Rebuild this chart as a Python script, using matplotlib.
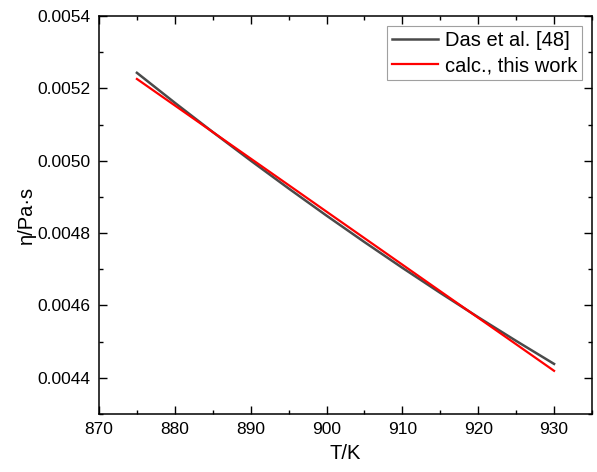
import matplotlib
matplotlib.use("Agg")
import matplotlib.pyplot as plt
from matplotlib.ticker import MultipleLocator

plt.rcParams['font.family'] = ['Liberation Sans', 'DejaVu Sans']

# Temperature, K
temperature = [875, 880, 885, 890, 895, 900, 905, 910, 915, 920, 925, 930]

# Viscosity, Pa*s
eta_das = [0.005243, 0.0051602, 0.0050793, 0.0050004, 0.0049234, 0.0048483,
           0.0047752, 0.004704, 0.0046347, 0.0045674, 0.004502, 0.0044384]
eta_calc = [0.005226, 0.0051527, 0.0050793, 0.005006, 0.0049327, 0.0048593,
            0.004786, 0.0047127, 0.0046393, 0.004566, 0.0044927, 0.0044193]


def main() -> None:
    fig = plt.figure(figsize=(5.97, 4.72), dpi=100)
    ax = fig.add_axes([0.1658, 0.1229, 0.8258, 0.8432])

    ax.plot(temperature, eta_das, color='#4a4a4a', lw=1.8, label='Das et al. [48]')
    ax.plot(temperature, eta_calc, color='#ff0000', lw=1.6, label='calc., this work')

    ax.set_xlim(870, 935)
    ax.set_ylim(0.0043, 0.0054)
    ax.xaxis.set_major_locator(MultipleLocator(10))
    ax.xaxis.set_minor_locator(MultipleLocator(5))
    ax.yaxis.set_major_locator(MultipleLocator(0.0002))
    ax.yaxis.set_minor_locator(MultipleLocator(0.0001))
    ax.yaxis.set_major_formatter(plt.FormatStrFormatter('%.4f'))

    ax.tick_params(which='both', direction='in', top=True, right=True,
                   labelsize=12.5, pad=6, width=1.0)
    ax.tick_params(which='major', length=6)
    ax.tick_params(which='minor', length=3)
    for sp in ax.spines.values():
        sp.set_linewidth(1.1)

    ax.set_xlabel('T/K', fontsize=14.5, labelpad=5)
    ax.set_ylabel('η/Pa·s', fontsize=14.5, labelpad=1)

    leg = ax.legend(loc='upper right', fontsize=14.5, frameon=True, fancybox=False,
                    borderaxespad=0.5, handlelength=2.3, handletextpad=0.3,
                    borderpad=0.25, labelspacing=0.3)
    leg.get_frame().set_edgecolor('#888888')
    leg.get_frame().set_linewidth(0.8)

    fig.savefig('out.png', dpi=100)


if __name__ == '__main__':
    main()
